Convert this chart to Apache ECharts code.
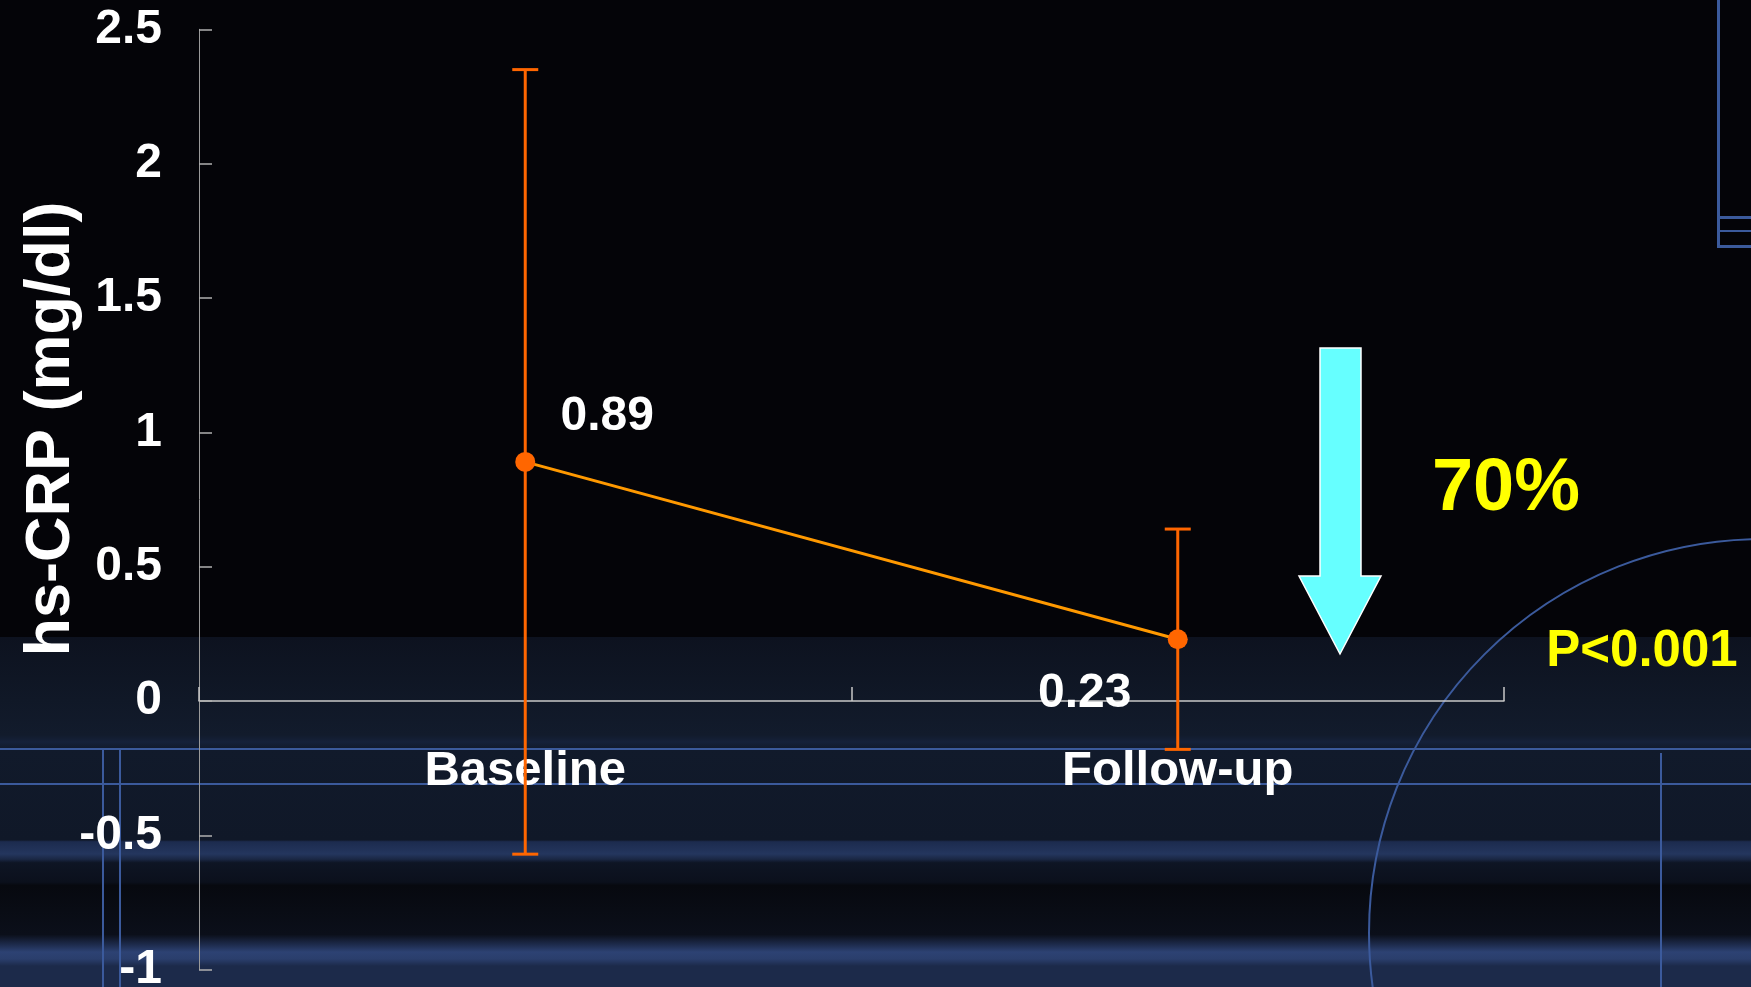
<!DOCTYPE html>
<html>
<head>
<meta charset="utf-8">
<title>hs-CRP</title>
<script src="https://cdn.jsdelivr.net/npm/echarts@6/dist/echarts.min.js"></script>
<style>
  html, body { margin: 0; padding: 0; background: #040408; }
  #chart { width: 1751px; height: 987px; }
</style>
</head>
<body>
<div id="chart"></div>
<script>
// hs-CRP before and after treatment: mean with ± SD whiskers
const categories = ['Baseline', 'Follow-up'];
const meanValues = [0.89, 0.23];
const upperValues = [2.35, 0.64];
const lowerValues = [-0.57, -0.18];
const yTicks = { min: -1, max: 2.5, step: 0.5 };
const axisTitle = 'hs-CRP (mg/dl)';
const reductionText = '70%';
const pValueText = 'P<0.001';

const FONT = '"Liberation Sans", Arial, Helvetica, sans-serif';
const BLUE = '#3b5a9c';

const chart = echarts.init(document.getElementById('chart'), null, { renderer: 'canvas' });

// value label placement next to each point
const labelOffsets = [[82, -45], [-93, 55]];

const lineData = meanValues.map((v, i) => ({
  value: v,
  label: { offset: labelOffsets[i] }
}));

const barData = categories.map((c, i) => [i, lowerValues[i], upperValues[i]]);

// slide backdrop: black top, dark navy streaked band below
const backdrop = [
  { type: 'rect', z: -10, silent: true, shape: { x: 0, y: 0, width: 1751, height: 987 }, style: { fill: '#040408' } },
  {
    type: 'rect', z: -9, silent: true,
    shape: { x: 0, y: 637, width: 1751, height: 350 },
    style: {
      fill: new echarts.graphic.LinearGradient(0, 0, 0, 1, [
        { offset: 0.00, color: '#0d121f' },
        { offset: 0.18, color: '#101827' },
        { offset: 0.28, color: '#121b2c' },
        { offset: 0.30, color: '#15213a' },
        { offset: 0.32, color: '#111a2b' },
        { offset: 0.58, color: '#101828' },
        { offset: 0.585, color: '#1c2b4e' },
        { offset: 0.62, color: '#24365e' },
        { offset: 0.635, color: '#1a2744' },
        { offset: 0.645, color: '#0e1524' },
        { offset: 0.70, color: '#0b101c' },
        { offset: 0.71, color: '#07090f' },
        { offset: 0.85, color: '#0b0f1a' },
        { offset: 0.88, color: '#1e2c4e' },
        { offset: 0.90, color: '#2d4273' },
        { offset: 0.92, color: '#2a3e6c' },
        { offset: 0.94, color: '#1c2a4a' },
        { offset: 1.00, color: '#1c2a4a' }
      ])
    }
  },
  { type: 'line', z: -8, silent: true, shape: { x1: 0, y1: 749, x2: 1751, y2: 749 }, style: { stroke: BLUE, lineWidth: 2 } },
  { type: 'line', z: -8, silent: true, shape: { x1: 0, y1: 784, x2: 1751, y2: 784 }, style: { stroke: BLUE, lineWidth: 2 } },
  { type: 'line', z: -8, silent: true, shape: { x1: 103, y1: 749, x2: 103, y2: 987 }, style: { stroke: BLUE, lineWidth: 2 } },
  { type: 'line', z: -8, silent: true, shape: { x1: 120, y1: 749, x2: 120, y2: 987 }, style: { stroke: BLUE, lineWidth: 2 } },
  { type: 'line', z: -8, silent: true, shape: { x1: 1661, y1: 753, x2: 1661, y2: 987 }, style: { stroke: BLUE, lineWidth: 2 } },
  { type: 'line', z: -8, silent: true, shape: { x1: 1718.5, y1: 0, x2: 1718.5, y2: 248 }, style: { stroke: BLUE, lineWidth: 3 } },
  { type: 'line', z: -8, silent: true, shape: { x1: 1717, y1: 217.5, x2: 1751, y2: 217.5 }, style: { stroke: BLUE, lineWidth: 3 } },
  { type: 'line', z: -8, silent: true, shape: { x1: 1717, y1: 231, x2: 1751, y2: 231 }, style: { stroke: BLUE, lineWidth: 2 } },
  { type: 'line', z: -8, silent: true, shape: { x1: 1717, y1: 246.5, x2: 1751, y2: 246.5 }, style: { stroke: BLUE, lineWidth: 3 } },
  { type: 'circle', z: -8, silent: true, shape: { cx: 1763, cy: 933, r: 394 }, style: { fill: 'none', stroke: BLUE, lineWidth: 2 } }
];

// annotations: downward arrow, reduction and p-value
const annotations = [
  {
    type: 'polygon', z: 10, silent: true,
    shape: { points: [[1320, 348], [1361, 348], [1361, 576], [1381, 576], [1340, 654], [1299, 576], [1320, 576]] },
    style: { fill: '#66ffff', stroke: '#ffffff', lineWidth: 1.5 }
  },
  {
    type: 'text', z: 10, silent: true, x: 1506, y: 490,
    style: { text: reductionText, fill: '#ffff00', font: 'bold 74px ' + FONT, align: 'center', verticalAlign: 'middle' }
  },
  {
    type: 'text', z: 10, silent: true, x: 1642, y: 652,
    style: { text: pValueText, fill: '#ffff00', font: 'bold 51px ' + FONT, align: 'center', verticalAlign: 'middle' }
  },
  {
    type: 'text', z: 10, silent: true, x: 52, y: 429, rotation: Math.PI / 2,
    style: { text: axisTitle, fill: '#ffffff', font: 'bold 63px ' + FONT, align: 'center', verticalAlign: 'middle' }
  }
];

const option = {
  backgroundColor: '#040408',
  animation: false,
  graphic: backdrop.concat(annotations),
  grid: { left: 199, right: 247, top: 29.3, bottom: 17.3, containLabel: false, outerBoundsMode: 'none' },
  xAxis: {
    type: 'category',
    data: categories,
    boundaryGap: true,
    axisLine: { show: true, onZero: true, lineStyle: { color: '#c8c8c8', width: 1.5 } },
    axisTick: { show: true, inside: true, length: 14, lineStyle: { color: '#c8c8c8', width: 1.5 } },
    // category names are drawn beside the zero line by the whisker series below
    axisLabel: { show: false },
    splitLine: { show: false }
  },
  yAxis: {
    type: 'value',
    min: yTicks.min,
    max: yTicks.max,
    interval: yTicks.step,
    axisLine: { show: true, lineStyle: { color: '#9a9a9a', width: 1 } },
    axisTick: { show: true, inside: true, length: 13, lineStyle: { color: '#b0b0b0', width: 1.5 } },
    axisLabel: { color: '#ffffff', fontFamily: FONT, fontWeight: 'bold', fontSize: 48, margin: 37 },
    splitLine: { show: false }
  },
  series: [
    {
      type: 'custom',
      z: 3,
      data: barData,
      encode: { x: 0, y: [1, 2] },
      renderItem: function (params, api) {
        const xi = api.value(0);
        const lo = api.coord([xi, api.value(1)]);
        const hi = api.coord([xi, api.value(2)]);
        const zero = api.coord([xi, 0]);
        const half = 13;
        const st = { stroke: '#ff6600', lineWidth: 3, fill: 'none' };
        return {
          type: 'group',
          children: [
            {
              type: 'text', x: zero[0], y: zero[1] + 70,
              style: {
                text: categories[params.dataIndex], fill: '#ffffff',
                font: 'bold 49px ' + FONT, align: 'center', verticalAlign: 'middle'
              }
            },
            { type: 'line', shape: { x1: hi[0], y1: hi[1], x2: lo[0], y2: lo[1] }, style: st },
            { type: 'line', shape: { x1: hi[0] - half, y1: hi[1], x2: hi[0] + half, y2: hi[1] }, style: st },
            { type: 'line', shape: { x1: lo[0] - half, y1: lo[1], x2: lo[0] + half, y2: lo[1] }, style: st }
          ]
        };
      }
    },
    {
      type: 'line',
      z: 4,
      data: lineData,
      symbol: 'circle',
      symbolSize: 20,
      lineStyle: { color: '#ff9900', width: 3 },
      itemStyle: { color: '#ff6600', borderWidth: 0 },
      label: {
        show: true,
        position: 'inside',
        color: '#ffffff',
        fontFamily: FONT,
        fontWeight: 'bold',
        fontSize: 48,
        align: 'center',
        verticalAlign: 'middle',
        formatter: function (p) { return p.value.toFixed(2); }
      }
    }
  ]
};

chart.setOption(option);
</script>
</body>
</html>
